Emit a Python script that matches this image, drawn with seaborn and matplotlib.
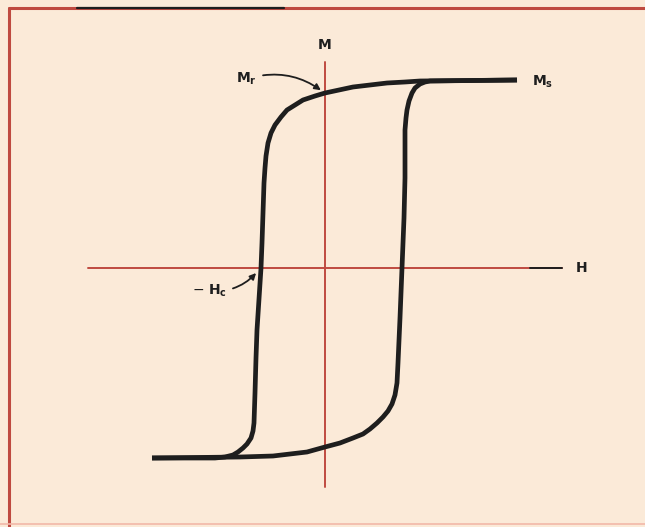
import matplotlib
matplotlib.use('Agg')
from matplotlib import pyplot as plt
import seaborn as sns
import pandas as pd

# hysteresis loop (H, M in arbitrary units, origin at axis crossing)
# descending branch: from saturation Ms back through Mr and -Hc
down_h = [192, 95, 80, 62, 45, 28, 14, 0, -10, -22, -30, -38, -44, -50, -54, -57, -59, -60, -61, -62,
          -63, -64, -66, -68, -69, -70, -71, -72, -74, -78, -82, -87, -92, -100, -110, -173]
down_m = [188, 187, 186, 185, 183, 181, 178, 175, 172, 168, 163, 158, 151, 143, 135, 125, 112, 100, 85, 55,
          25, 0, -31, -62, -90, -125, -155, -163, -170, -176, -180, -184, -187, -189, -190, -190]

# ascending branch: from negative saturation back up to Ms
up_h = [-173, -85, -52, -35, -18, 0, 15, 28, 38, 45, 52, 58, 63, 67, 70, 72, 73, 75, 77, 79, 80, 80, 81, 82,
        84, 87, 90, 95, 100, 105, 192]
up_m = [-190, -189, -188, -186, -184, -179, -175, -170, -166, -161, -155, -149, -143, -136, -127, -115, -95, -50,
        0, 50, 90, 138, 150, 158, 167, 175, 180, 184, 186, 187, 188]

bg = '#fbead8'
red = '#bf4a40'
ink = '#1e1e1e'

sns.set_theme(style='white')
plt.rcParams['font.family'] = ['DejaVu Sans']
plt.rcParams['mathtext.fontset'] = 'dejavusans'

fig = plt.figure(figsize=(6.45, 5.27), dpi=100, facecolor=bg)
ax = fig.add_axes([0, 0, 1, 1])
ax.set_facecolor(bg)

down = pd.DataFrame({'H': down_h, 'M': down_m})
up = pd.DataFrame({'H': up_h, 'M': up_m})

# axes of the diagram
ax.plot([0, 0], [206, -219], color=red, lw=1.4, zorder=1)
ax.plot([-237, 237], [0, 0], color=red, lw=1.4, zorder=1)
ax.plot([205, 237], [0, 0], color=ink, lw=1.4, zorder=1)

sns.lineplot(data=down, x='H', y='M', sort=False, estimator=None, color=ink,
             lw=3.4, ax=ax, zorder=3, solid_joinstyle='round', solid_capstyle='butt')
sns.lineplot(data=up, x='H', y='M', sort=False, estimator=None, color=ink,
             lw=3.4, ax=ax, zorder=3, solid_joinstyle='round', solid_capstyle='butt')

# labels
tk = dict(color=ink, fontsize=10, fontweight='bold')
ax.text(0, 223, 'M', ha='center', va='center', **tk)
ax.text(257, 0, 'H', ha='center', va='center', **tk)
ax.text(207, 186, r'$\mathbf{M}_\mathbf{s}$', ha='left', va='center', **tk)
ax.annotate(r'$\mathbf{M}_\mathbf{r}$', xy=(-3, 177), xytext=(-68, 189),
            ha='right', va='center', **tk,
            arrowprops=dict(arrowstyle='-|>', color=ink, lw=1.3,
                            connectionstyle='arc3,rad=-0.25', shrinkA=2, shrinkB=1,
                            mutation_scale=9))
ax.annotate(r'$-\ \mathbf{H}_\mathbf{c}$', xy=(-68, -4), xytext=(-98, -23),
            ha='right', va='center', **tk,
            arrowprops=dict(arrowstyle='-|>', color=ink, lw=1.3,
                            connectionstyle='arc3,rad=0.25', shrinkA=2, shrinkB=1,
                            mutation_scale=9))

ax.set_xlim(-325, 320)
ax.set_ylim(-259, 268)
ax.set_axis_off()

# red frame of the scanned page
ax.plot([0.014, 0.014], [0.0, 0.985], transform=ax.transAxes, color=red, lw=2.2, clip_on=False)
ax.plot([0.014, 1.0], [0.985, 0.985], transform=ax.transAxes, color=red, lw=2.2, clip_on=False)
ax.plot([0.12, 0.44], [0.985, 0.985], transform=ax.transAxes, color=ink, lw=1.6, clip_on=False)
ax.plot([0.0, 1.0], [0.006, 0.006], transform=ax.transAxes, color='#f2b8a8', lw=1.2, clip_on=False)

fig.savefig('out.png', dpi=100, facecolor=bg)
